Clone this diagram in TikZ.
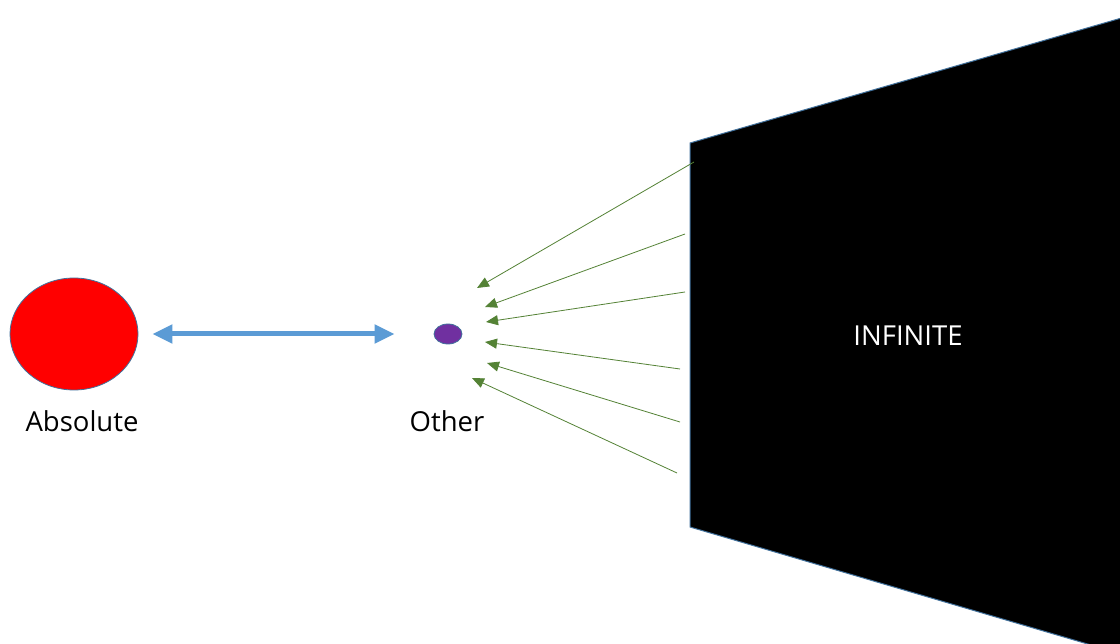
\documentclass[tikz,border=0pt]{standalone}
\usepackage{fontspec}
\setmainfont{Open Sans}
\usetikzlibrary{shapes.geometric,arrows.meta}
\definecolor{edgeblue}{RGB}{65,113,156}
\definecolor{arrowblue}{RGB}{91,155,213}
\definecolor{raygreen}{RGB}{84,130,53}
\definecolor{otherpurple}{RGB}{112,48,160}
\tikzset{
  blob/.style={ellipse, draw=edgeblue, line width=0.8pt, inner sep=0pt},
  lbl/.style={font=\fontsize{27.5}{30}\selectfont},
  ray/.style={raygreen, line width=0.8pt, -{Triangle[length=12pt,width=10pt]}},
}
\begin{document}
\begin{tikzpicture}[x=1pt,y=-1pt]
    \useasboundingbox (0,0) rectangle (1120,644);
    \fill[white] (0,0) rectangle (1120,644);

    \node[blob, fill=red, minimum width=128pt, minimum height=112pt] (abs) at (74,334) {};
    \node[blob, fill=otherpurple, minimum width=28pt, minimum height=20pt] (oth) at (448,334) {};
    \node[lbl] (abslbl) at (82,421) {Absolute};
    \node[lbl] (othlbl) at (447,421) {Other};

    \draw[arrowblue, line width=5pt, {Triangle[length=20pt,width=18pt]}-{Triangle[length=20pt,width=18pt]},
          shorten <=14pt, shorten >=39pt] (abs.east) -- (oth.west);

    \draw[edgeblue, line width=1pt, fill=black] (690,143) -- (1125,17) -- (1125,655) -- (690,527) -- cycle;
    \node[lbl, text=white] (inf) at (908,336) {INFINITE};

    \coordinate (s1) at (694,162); \coordinate (e1) at (477,288);
    \coordinate (s2) at (685,234); \coordinate (e2) at (485,307);
    \coordinate (s3) at (685,292); \coordinate (e3) at (486,322);
    \coordinate (s4) at (680,369); \coordinate (e4) at (485,342);
    \coordinate (s5) at (680,422); \coordinate (e5) at (487,363);
    \coordinate (s6) at (677,473); \coordinate (e6) at (472,378);

    \draw[ray] (s1) -- (e1);
    \draw[ray] (s2) -- (e2);
    \draw[ray] (s3) -- (e3);
    \draw[ray] (s4) -- (e4);
    \draw[ray] (s5) -- (e5);
    \draw[ray] (s6) -- (e6);
\end{tikzpicture}
\end{document}
